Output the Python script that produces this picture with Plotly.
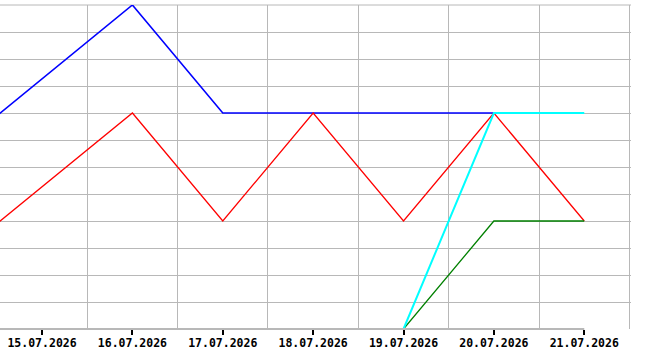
import plotly.graph_objects as go

dates = ["2026-07-14", "2026-07-15", "2026-07-16", "2026-07-17",
         "2026-07-18", "2026-07-19", "2026-07-20", "2026-07-21"]
blue = [6.53, 9.26, 12, 8, 8, 8, 8, None]
red = [2.53, 5.26, 8, 4, 8, 4, 8, 4]
green = [None, None, None, None, None, 0, 4, 4]
cyan = [None, None, None, None, None, 0, 8, 8]

tick_vals = ["2026-07-15", "2026-07-16", "2026-07-17", "2026-07-18",
             "2026-07-19", "2026-07-20", "2026-07-21"]
tick_text = ["15.07.2026", "16.07.2026", "17.07.2026", "18.07.2026",
             "19.07.2026", "20.07.2026", "21.07.2026"]

GRID = "#b8b8b8"
fig = go.Figure()
for ys, col, w in [(blue, "#0000ff", 1.6), (red, "#ff0000", 1.3),
                   (green, "#008000", 1.3), (cyan, "#00ffff", 2)]:
    fig.add_trace(go.Scatter(x=dates, y=ys, mode="lines",
                             line=dict(color=col, width=w), showlegend=False,
                             connectgaps=False))

fig.add_shape(type="line", xref="x", yref="paper",
              x0="2026-07-14 12:00", x1="2026-07-21", y0=0, y1=0,
              line=dict(color=GRID, width=2), layer="above")
fig.add_shape(type="line", xref="paper", yref="paper",
              x0=0, x1=1, y0=1, y1=1,
              line=dict(color=GRID, width=1), layer="below")

fig.update_layout(
    width=670, height=350,
    margin=dict(l=0, r=39, t=5, b=21),
    paper_bgcolor="white", plot_bgcolor="white",
    xaxis=dict(
        type="date", automargin=False,
        range=["2026-07-14 12:50", "2026-07-21 12:25"],
        tickvals=tick_vals, ticktext=tick_text,
        ticks="outside", ticklen=5, tickwidth=2, tickcolor="#000000",
        ticklabelstandoff=-2,
        showgrid=False, zeroline=False, showline=False,
        tickfont=dict(family="DejaVu Sans Mono", size=11.5, color="#000000", weight="bold"),
        minor=dict(tick0="2026-07-14 12:00", dtick=86400000, showgrid=True,
                   gridcolor=GRID, gridwidth=1, ticks=""),
    ),
    yaxis=dict(
        range=[0, 12], dtick=1, showgrid=True, gridcolor=GRID, gridwidth=1,
        showticklabels=False, zeroline=False, ticks="", showline=False,
        automargin=False,
    ),
)
fig.write_html("out.html")
